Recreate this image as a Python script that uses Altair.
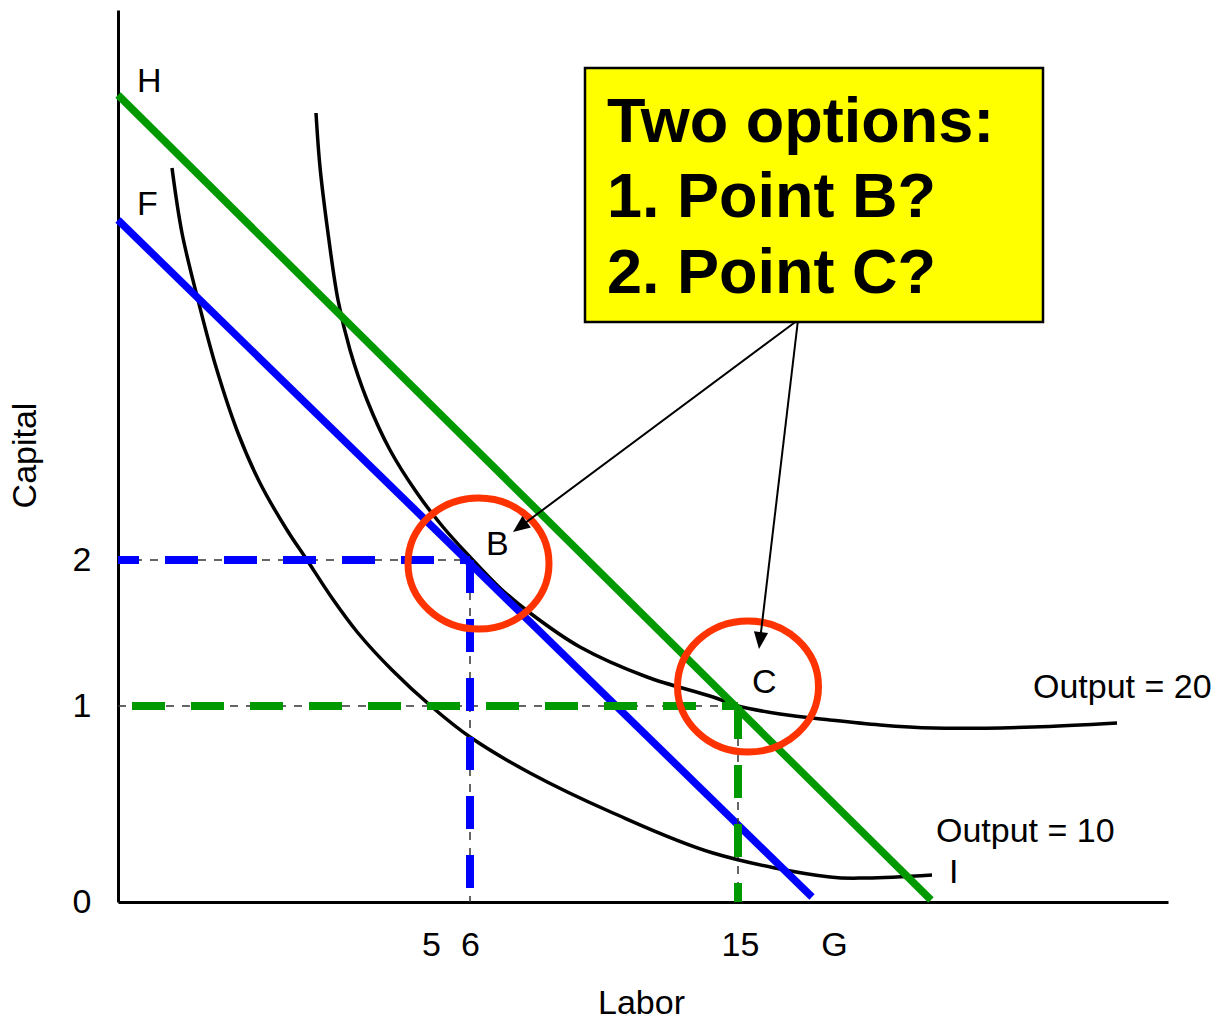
import altair as alt
import numpy as np
import pandas as pd

# Schematic production diagram: labor on x, capital on y.
# One unit is the same length on both axes, so slopes read true on screen.
X_MAX = 105.0
Y_MAX = 89.2

# Isoquant for output = 20 (labor, capital)
q20_labor = [19.8, 20.2, 21.0, 22.0, 23.2, 24.9, 27.2, 29.9, 32.5, 35.2, 38.2,
             41.2, 46.2, 52.9, 59.5, 62.0, 66.2, 71.2, 76.2, 81.5, 91.5, 99.9]
q20_capital = [78.9, 73.5, 66.9, 60.2, 55.2, 50.2, 45.2, 40.9, 37.5, 34.5, 31.4,
               28.9, 25.5, 22.5, 20.5, 19.6, 18.8, 18.2, 17.7, 17.4, 17.5, 17.9]

# Isoquant for output = 10
q10_labor = [5.4, 6.4, 8.0, 9.8, 12.0, 14.2, 16.9, 18.9, 21.4, 24.0, 27.4, 31.4,
             35.2, 41.2, 49.5, 59.5, 71.2, 74.9, 81.4]
q10_capital = [73.4, 66.9, 60.2, 53.5, 46.9, 41.9, 37.2, 34.2, 30.4, 26.9, 23.2, 19.5,
               16.5, 12.9, 8.9, 4.9, 2.5, 2.4, 2.7]

# Isocost lines: H-line (green) and F-G line (blue)
iso_names = ["HI", "FG"]
iso_start = [(0.0, 80.7), (0.0, 68.2)]
iso_end = [(81.3, 0.2), (69.4, 0.5)]
iso_colors = ["#009900", "#0000FF"]

# Input bundles B and C
pt_names = ["B", "C"]
pt_labor = [35.2, 62.0]
pt_capital = [34.2, 19.6]
pt_colors = ["#0000FF", "#009900"]

# Axis ticks
x_tick_pos = [31.3, 35.2, 62.2, 71.6]
x_tick_text = ["5", "6", "15", "G"]
y_tick_pos = [0, 19.6, 34.2]
y_tick_text = ["0", "1", "2"]

# Highlight rings around B and C
ring_x = [36.05, 63.0]
ring_y = [33.85, 21.55]

# Callout box and its pointers
box_x = [46.7, 92.5]
box_y = [58.0, 83.4]
box_lines = ["Two options:", "1. Point B?", "2. Point C?"]
box_line_y = [76.0, 68.5, 60.9]
box_text_x = 48.9
arrow_from = (68.0, 58.2)
arrow_tips = [(39.5, 37.0), (64.1, 25.3)]

# Plain labels
lab_text = ["H", "F", "B", "C", "I", "Output = 20", "Output = 10"]
lab_x = [1.9, 1.9, 36.8, 63.4, 83.1, 91.5, 81.8]
lab_y = [81.0, 68.7, 34.7, 20.9, 1.9, 20.4, 6.0]

FONT = "Liberation Sans"

xs = alt.Scale(domain=[0, X_MAX], nice=False, zero=False)
ys = alt.Scale(domain=[0, Y_MAX], nice=False, zero=False)


def label_expr(pos, text):
    return "[" + ",".join(f"'{t}'" for t in text) + "][indexof([" + \
        ",".join(str(p) for p in pos) + "], datum.value)]"


x_axis = alt.Axis(
    values=x_tick_pos, labelExpr=label_expr(x_tick_pos, x_tick_text),
    ticks=False, grid=False, domainColor="black", domainWidth=3,
    labelFont=FONT, labelFontSize=34, labelColor="black", labelPadding=26,
    labelOverlap=False, labelFlush=False,
    title="Labor", titleFont=FONT, titleFontSize=34, titleFontWeight="normal",
    titleColor="black", titleX=523, titleY=111, titleAlign="center",
    titleBaseline="alphabetic",
)
y_axis = alt.Axis(
    values=y_tick_pos, labelExpr=label_expr(y_tick_pos, y_tick_text),
    ticks=False, grid=False, domainColor="black", domainWidth=3,
    labelFont=FONT, labelFontSize=34, labelColor="black", labelPadding=27,
    labelOverlap=False, labelFlush=False,
    title="Capital", titleFont=FONT, titleFontSize=34, titleFontWeight="normal",
    titleColor="black", titleX=-83, titleY=445, titleAngle=270,
    titleAlign="center", titleBaseline="alphabetic",
)


def X(f):
    return alt.X(f, type="quantitative", scale=xs, axis=x_axis)


def Y(f):
    return alt.Y(f, type="quantitative", scale=ys, axis=y_axis)


# --- isoquants
iso_q = pd.concat([
    pd.DataFrame({"labor": q20_labor, "capital": q20_capital, "curve": "q20"}),
    pd.DataFrame({"labor": q10_labor, "capital": q10_capital, "curve": "q10"}),
])
isoquants = alt.Chart(iso_q).mark_line(
    color="black", strokeWidth=3.5, interpolate="catmull-rom"
).encode(x=X("labor"), y=Y("capital"), detail="curve:N")

# --- isocost lines
iso_df = pd.DataFrame({
    "name": iso_names,
    "x1": [s[0] for s in iso_start], "y1": [s[1] for s in iso_start],
    "x2": [e[0] for e in iso_end], "y2": [e[1] for e in iso_end],
    "color": iso_colors,
})
isocosts = alt.Chart(iso_df).mark_rule(strokeWidth=7.5, strokeCap="butt").encode(
    x=X("x1"), y=Y("y1"), x2="x2", y2="y2",
    color=alt.Color("color:N", scale=None),
)

# --- guide lines from B and C to the axes
seg_rows = []
for name, lx, ky, col in zip(pt_names, pt_labor, pt_capital, pt_colors):
    seg_rows.append({"pt": name, "dir": "h", "x1": 0.0, "y1": ky, "x2": lx, "y2": ky, "color": col})
    seg_rows.append({"pt": name, "dir": "v", "x1": lx, "y1": ky, "x2": lx, "y2": 0.0, "color": col})
seg_df = pd.DataFrame(seg_rows)

thin_guides = alt.Chart(seg_df).mark_rule(
    color="#333333", strokeWidth=1.5, strokeDash=[8, 8]
).encode(x=X("x1"), y=Y("y1"), x2="x2", y2="y2")

dash_offsets = {("B", "h"): 12, ("B", "v"): 0, ("C", "h"): 45, ("C", "v"): 0}
colored_guides = []
for (pt, d), off in dash_offsets.items():
    sub = seg_df[(seg_df["pt"] == pt) & (seg_df["dir"] == d)]
    colored_guides.append(
        alt.Chart(sub).mark_rule(
            strokeWidth=8, strokeDash=[33, 26], strokeDashOffset=off, strokeCap="butt"
        ).encode(x=X("x1"), y=Y("y1"), x2="x2", y2="y2",
                 color=alt.Color("color:N", scale=None))
    )

# --- rings
ring_df = pd.DataFrame({"x": ring_x, "y": ring_y})
ELLIPSE = "M-1,0A1,0.93,0,1,1,1,0A1,0.93,0,1,1,-1,0Z"
rings = alt.Chart(ring_df).mark_point(
    shape=ELLIPSE, size=141 ** 2, filled=False, stroke="#FF3300",
    strokeWidth=7, opacity=1,
).encode(x=X("x"), y=Y("y"))

# --- callout box
box_df = pd.DataFrame({"x1": [box_x[0]], "x2": [box_x[1]], "y1": [box_y[0]], "y2": [box_y[1]]})
box = alt.Chart(box_df).mark_rect(fill="#FFFF00", stroke="black", strokeWidth=2.5).encode(
    x=X("x1"), x2="x2", y=Y("y1"), y2="y2"
)
box_text_df = pd.DataFrame({"t": box_lines, "x": box_text_x, "y": box_line_y})
box_text = alt.Chart(box_text_df).mark_text(
    align="left", baseline="alphabetic", font=FONT, fontSize=63,
    fontWeight="bold", color="black",
).encode(x=X("x"), y=Y("y"), text="t:N")

# --- pointers from the box
arr_rows = []
for tx, ty in arrow_tips:
    dx, dy = tx - arrow_from[0], ty - arrow_from[1]
    length = np.hypot(dx, dy)
    ux, uy = dx / length, dy / length
    # screen rotation (clockwise from up); screen y runs opposite to capital
    ang = (np.degrees(np.arctan2(ux, uy)) + 360) % 360
    arr_rows.append({
        "x1": arrow_from[0], "y1": arrow_from[1],
        "x2": tx - ux * 0.8, "y2": ty - uy * 0.8,
        "tx": tx, "ty": ty, "angle": ang,
    })
arr_df = pd.DataFrame(arr_rows)
arrow_lines = alt.Chart(arr_df).mark_rule(color="black", strokeWidth=2).encode(
    x=X("x1"), y=Y("y1"), x2="x2", y2="y2"
)
ARROW = "M0,0L-0.42,1L0.42,1Z"
arrow_heads = alt.Chart(arr_df).mark_point(
    shape=ARROW, size=34 ** 2, filled=True, color="black", opacity=1
).encode(x=X("tx"), y=Y("ty"), angle=alt.Angle("angle:Q", scale=None))

# --- labels
lab_df = pd.DataFrame({"t": lab_text, "x": lab_x, "y": lab_y})
labels = alt.Chart(lab_df).mark_text(
    align="left", baseline="alphabetic", font=FONT, fontSize=34, color="black"
).encode(x=X("x"), y=Y("y"), text="t:N")

chart = alt.layer(
    isoquants, isocosts, thin_guides, *colored_guides, rings,
    arrow_lines, arrow_heads, box, box_text, labels,
).properties(
    width=1050, height=892,
    padding={"left": 118, "top": 10, "right": 54, "bottom": 120},
    autosize=alt.AutoSizeParams(type="none"),
    background="white",
).configure_view(stroke=None)

chart.save("out.html", embed_options={"renderer": "svg", "actions": False})
